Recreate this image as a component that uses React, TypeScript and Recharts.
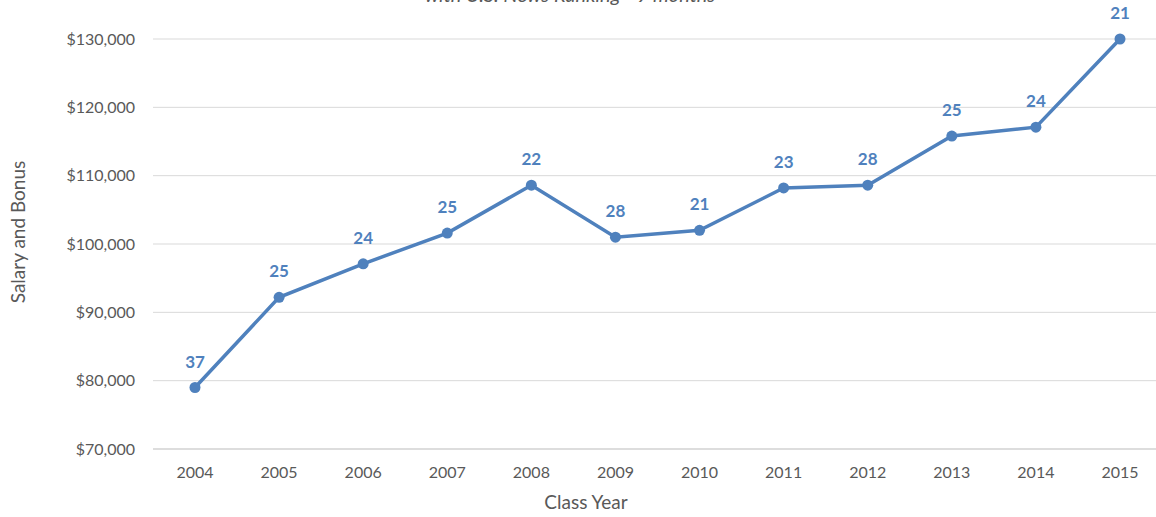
import React from 'react';
import { LineChart, Line, XAxis, YAxis, CartesianGrid, LabelList } from 'recharts';

const years = ['2004', '2005', '2006', '2007', '2008', '2009', '2010', '2011', '2012', '2013', '2014', '2015'];
const salaries = [79000, 92200, 97100, 101600, 108600, 101000, 102000, 108200, 108600, 115800, 117100, 130000];
const rankings = [37, 25, 24, 25, 22, 28, 21, 23, 28, 25, 24, 21];
const yTicks = [70000, 80000, 90000, 100000, 110000, 120000, 130000];

const data = years.map((year, i) => ({ year, salary: salaries[i], rank: rankings[i] }));

const FONT = 'Lato, "Open Sans", sans-serif';
const GRAY = '#595959';
const BLUE = '#4f81bd';

const fmt = (v: number) => '$' + v.toLocaleString('en-US');

export default function App() {
  return (
    <div
      style={{
        position: 'fixed',
        left: 0,
        top: 0,
        width: 1156,
        height: 517,
        overflow: 'hidden',
        background: '#fff',
        fontFamily: FONT,
      }}
    >
      <div
        style={{
          position: 'absolute',
          top: -16,
          left: 0,
          width: 1140,
          textAlign: 'center',
          fontSize: 20,
          lineHeight: '20px',
          fontStyle: 'italic',
          color: GRAY,
          fontFamily: FONT,
        }}
      >
        with U.S. News Ranking - 9 months
      </div>
      <LineChart
        width={1170}
        height={517}
        data={data}
        margin={{ top: 39, right: 8, bottom: 0, left: 0 }}
        style={{ fontFamily: FONT }}
      >
        <CartesianGrid vertical={false} stroke="#d9d9d9" strokeWidth={1} />
        <XAxis
          dataKey="year"
          height={68}
          padding={{ left: 42, right: 42 }}
          tickSize={0}
          tickMargin={18}
          axisLine={{ stroke: '#d9d9d9', strokeWidth: 1.5 }}
          tick={{ fill: GRAY, fontSize: 16, fontFamily: FONT }}
          interval={0}
          label={{
            content: () => (
              <text x={586} y={509} textAnchor="middle" fill={GRAY} fontSize={19} fontFamily={FONT}>
                Class Year
              </text>
            ),
          }}
        />
        <YAxis
          width={153}
          domain={[70000, 130000]}
          ticks={yTicks}
          tickFormatter={fmt}
          tickSize={0}
          tickMargin={18}
          axisLine={false}
          tick={{ fill: GRAY, fontSize: 16, fontFamily: FONT }}
          label={{
            content: () => (
              <text
                x={25}
                y={232}
                transform="rotate(-90, 25, 232)"
                textAnchor="middle"
                fill={GRAY}
                fontSize={19}
                fontFamily={FONT}
              >
                Salary and Bonus
              </text>
            ),
          }}
        />
        <Line
          type="linear"
          dataKey="salary"
          stroke={BLUE}
          strokeWidth={3.5}
          dot={{ r: 5.5, fill: BLUE, stroke: BLUE, strokeWidth: 0 }}
          activeDot={false}
          isAnimationActive={false}
        >
          <LabelList
            dataKey="rank"
            position="top"
            offset={20}
            fill={BLUE}
            fontSize={17}
            fontWeight="bold"
            fontFamily={FONT}
          />
        </Line>
      </LineChart>
    </div>
  );
}
